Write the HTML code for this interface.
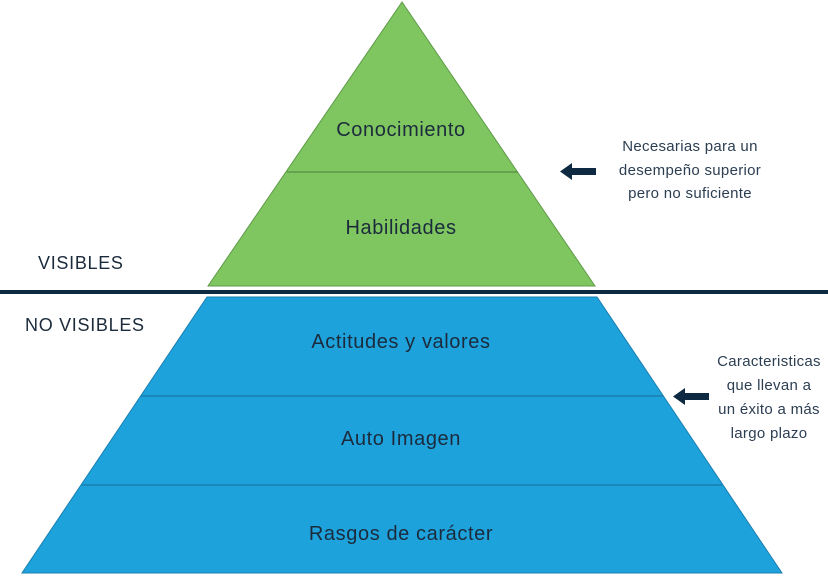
<!DOCTYPE html>
<html><head><meta charset="utf-8"><style>
body{margin:0;background:#fff;}
svg text{font-family:"Liberation Sans",sans-serif;}
</style></head><body>
<svg width="828" height="574" viewBox="0 0 828 574" xmlns="http://www.w3.org/2000/svg">
<polygon points="402,2 595,286 208,286" fill="#7fc661" stroke="#5e9a48" stroke-width="1"/>
<line x1="287" y1="172" x2="518" y2="172" stroke="#4f7f3c" stroke-width="1"/>
<rect x="0" y="290" width="828" height="4" fill="#0f2a40"/>
<polygon points="207,297 597,297 782,573 22,573" fill="#1ea2dc" stroke="#1a7fb0" stroke-width="1"/>
<line x1="141" y1="396" x2="663" y2="396" stroke="#1a6e98" stroke-width="1"/>
<line x1="82" y1="485" x2="722" y2="485" stroke="#1a6e98" stroke-width="1"/>
<g fill="#1b2b3c" font-size="20" text-anchor="middle" letter-spacing="0.6">
<text x="401" y="136">Conocimiento</text>
<text x="401" y="234">Habilidades</text>
<text x="401" y="348">Actitudes y valores</text>
<text x="401" y="445">Auto Imagen</text>
<text x="401" y="540">Rasgos de carácter</text>
</g>
<g fill="#1b2b3c" font-size="18" letter-spacing="0.7">
<text x="38" y="269">VISIBLES</text>
<text x="25" y="331">NO VISIBLES</text>
</g>
<g fill="#2c3e52" font-size="15" text-anchor="middle" letter-spacing="0.3">
<text x="690" y="151">Necesarias para un</text>
<text x="690" y="175">desempeño superior</text>
<text x="690" y="198">pero no suficiente</text>
<text x="769" y="366">Caracteristicas</text>
<text x="769" y="390">que llevan a</text>
<text x="769" y="414">un éxito a más</text>
<text x="769" y="438">largo plazo</text>
</g>
<g fill="#0d2a42">
<rect x="570" y="168" width="26" height="7"/>
<polygon points="560,171.5 572,163 572,180"/>
<rect x="683" y="393" width="26" height="7"/>
<polygon points="673,396.5 685,388 685,405"/>
</g>
</svg>
</body></html>
